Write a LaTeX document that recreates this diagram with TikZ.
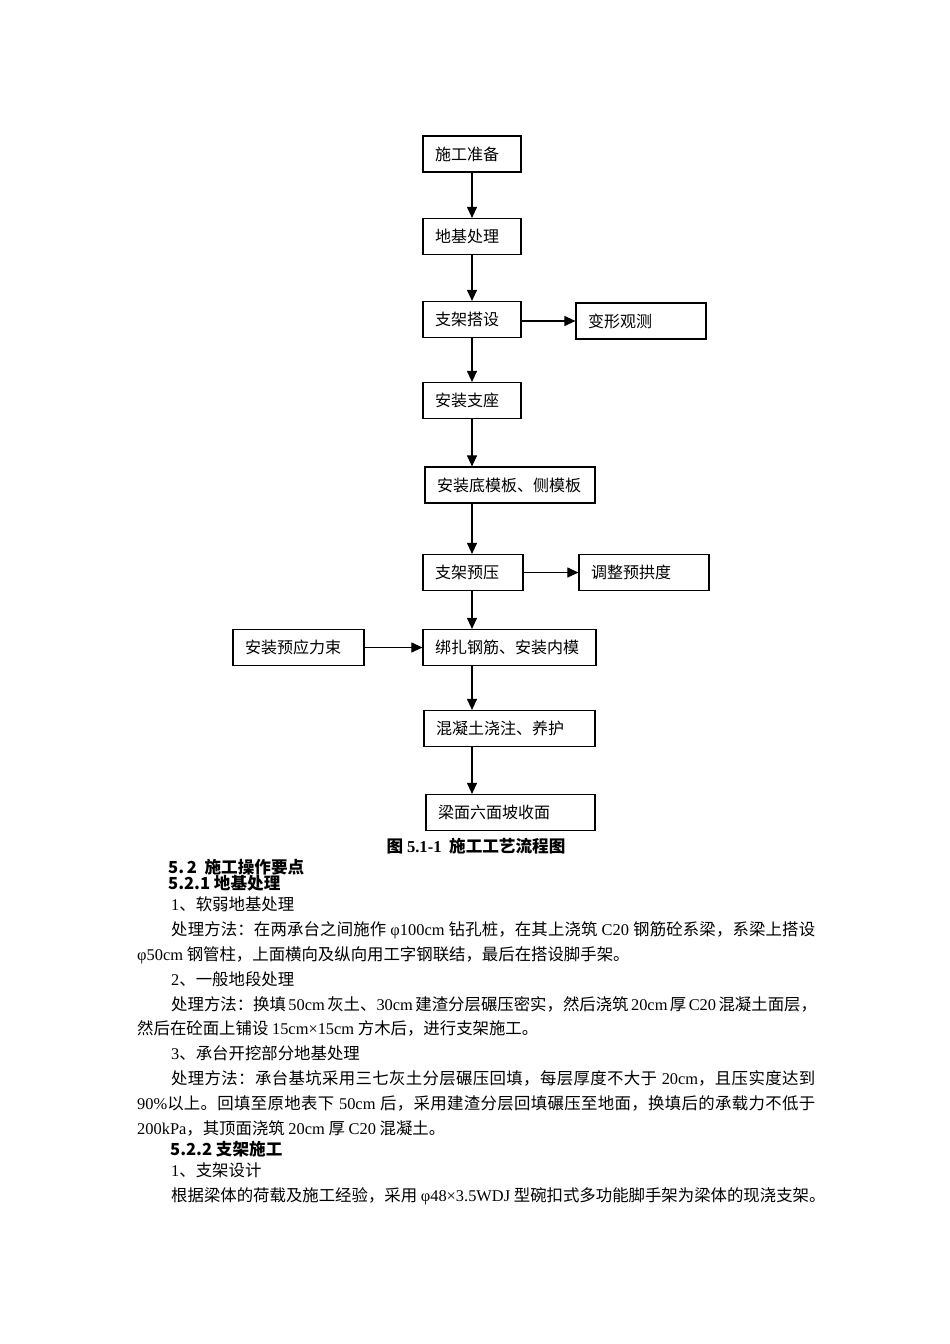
\documentclass[tikz,border=0pt]{standalone}
\usepackage{fontspec}
\setmainfont{Noto Sans CJK SC}
\newfontfamily\latin{Liberation Serif}
\newcommand\lat[1]{{\latin #1}}
\usetikzlibrary{arrows.meta}
% a little stretch between Chinese characters, for the justified lines
\newcount\cjkc
\cjkc="4E00
\loop\XeTeXcharclass\cjkc=1 \advance\cjkc by 1 \ifnum\cjkc<"A000 \repeat
\XeTeXcharclass"3001=1 \XeTeXcharclass"3002=1
\XeTeXcharclass"FF0C=1 \XeTeXcharclass"FF1A=1
\XeTeXinterchartoks 1 1 = {\hskip0pt plus 0.6pt}
\XeTeXinterchartokenstate=1
\begin{document}
\begin{tikzpicture}[x=1pt,y=-1pt,
  procbox/.style={draw,line width=1.2pt,inner xsep=12pt,inner ysep=0pt,
    minimum height=36pt,align=left,font=\fontsize{16}{19}\selectfont},
  flow/.style={line width=1.1pt,-{Triangle[length=11pt,width=10pt]}},
  txt/.style={anchor=base west,inner sep=0pt,font=\fontsize{16.4}{19}\selectfont},
  head/.style={anchor=base west,inner sep=0pt,font=\fontsize{16.6}{19}\bfseries}]
\useasboundingbox[fill=white](0,0) rectangle (950,1344);

% flow chart
\node[procbox,text width=74pt] (prep) at (472,154) {施工准备};
\node[procbox,text width=74pt] (found) at (472,236.5) {地基处理};
\node[procbox,text width=74pt] (erect) at (472,319.5) {支架搭设};
\node[procbox,text width=106pt] (observe) at (641,321) {变形观测};
\node[procbox,text width=74pt] (bearing) at (472,400.5) {安装支座};
\node[procbox,text width=146pt] (form) at (510,485) {安装底模板、侧模板};
\node[procbox,text width=76pt] (preload) at (473,572.5) {支架预压};
\node[procbox,text width=106pt] (camber) at (644,572.5) {调整预拱度};
\node[procbox,text width=107pt] (tendon) at (298.5,647.5) {安装预应力束};
\node[procbox,text width=149pt] (rebar) at (509.5,647.5) {绑扎钢筋、安装内模};
\node[procbox,text width=147pt] (pour) at (509.5,728.5) {混凝土浇注、养护};
\node[procbox,text width=145pt] (finish) at (510.5,812.5) {梁面六面坡收面};

\coordinate (spine) at (472,0);
\draw[flow] (prep.south -| spine) -- (found.north -| spine);
\draw[flow] (found.south -| spine) -- (erect.north -| spine);
\draw[flow] (erect.south -| spine) -- (bearing.north -| spine);
\draw[flow] (bearing.south -| spine) -- (form.north -| spine);
\draw[flow] (form.south -| spine) -- (preload.north -| spine);
\draw[flow] (preload.south -| spine) -- (rebar.north -| spine);
\draw[flow] (rebar.south -| spine) -- (pour.north -| spine);
\draw[flow] (pour.south -| spine) -- (finish.north -| spine);
\draw[flow] (erect.east |- observe.west) -- (observe.west);
\draw[flow] (preload.east) -- (camber.west);
\draw[flow] (tendon.east) -- (rebar.west);

% caption and text
\node[anchor=base,inner sep=0pt,font=\fontsize{16.6}{19}\bfseries] (cap) at (476,852) {图 \lat{5.1-1}\ \ 施工工艺流程图};
\node[head] (h1) at (168,873) {5.\,2\ \ 施工操作要点};
\node[head] (h2) at (168,889) {5.2.1 地基处理};
\node[txt] (l1) at (171,910) {\lat{1}、软弱地基处理};
\node[txt] (l2) at (171,935) {\makebox[644pt][s]{处理方法：在两承台之间施作 \lat{φ100cm} 钻孔桩，在其上浇筑 \lat{C20} 钢筋砼系梁，系梁上搭设}};
\node[txt] (l3) at (137,960) {\lat{φ50cm} 钢管柱，上面横向及纵向用工字钢联结，最后在搭设脚手架。};
\node[txt] (l4) at (171,985) {\lat{2}、一般地段处理};
\node[txt] (l5) at (171,1010) {\makebox[642pt][s]{处理方法：换填 \lat{50cm} 灰土、\lat{30cm} 建渣分层碾压密实，然后浇筑 \lat{20cm} 厚 \lat{C20} 混凝土面层，}};
\node[txt] (l6) at (137,1034) {然后在砼面上铺设 \lat{15cm×15cm} 方木后，进行支架施工。};
\node[txt] (l7) at (171,1059) {\lat{3}、承台开挖部分地基处理};
\node[txt] (l8) at (171,1084) {\makebox[644pt][s]{处理方法：承台基坑采用三七灰土分层碾压回填，每层厚度不大于 \lat{20cm}，且压实度达到}};
\node[txt] (l9) at (137,1109) {\makebox[678pt][s]{\lat{90\%}以上。回填至原地表下 \lat{50cm} 后，采用建渣分层回填碾压至地面，换填后的承载力不低于}};
\node[txt] (l10) at (137,1134) {\lat{200kPa}，其顶面浇筑 \lat{20cm} 厚 \lat{C20} 混凝土。};
\node[head] (h3) at (170,1155) {5.2.2 支架施工};
\node[txt] (l11) at (171,1176) {\lat{1}、支架设计};
\node[txt] (l12) at (171,1201) {根据梁体的荷载及施工经验，采用 \lat{φ48×3.5WDJ} 型碗扣式多功能脚手架为梁体的现浇支架。};
\end{tikzpicture}
\end{document}
